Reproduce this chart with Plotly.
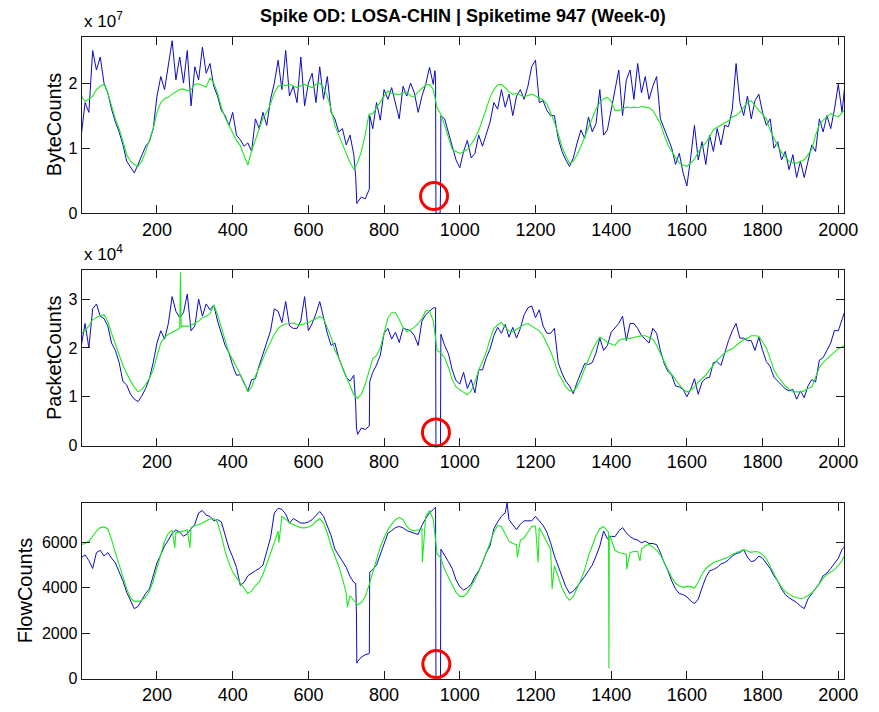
import plotly.graph_objects as go

STEP = 10  # sample spacing (time bins) of the rows below; row k covers bins 100k .. 100k+90

# ---------------- ByteCounts (x 10^7) ----------------
byte_blue_rows = [
    [1.2, 1.7, 1.55, 2.5, 2.2, 2.4, 2.0, 1.85, 1.6, 1.4],
    [1.25, 1.05, 0.8, 0.7, 0.62, 0.75, 0.9, 1.03, 1.1, 1.3],
    [1.8, 2.1, 1.9, 2.25, 2.65, 2.05, 2.4, 2.0, 2.5, 1.65],
    [2.25, 2.05, 2.55, 2.15, 2.3, 1.95, 1.8, 1.58, 1.5, 1.35],
    [1.55, 1.2, 1.13, 1.03, 1.08, 0.95, 1.45, 1.3, 1.55, 1.35],
    [1.75, 2.0, 2.35, 1.9, 2.5, 1.8, 1.95, 1.7, 2.4, 1.65],
    [2.0, 2.15, 1.7, 2.25, 1.75, 2.1, 1.55, 1.45, 1.25, 1.3],
    [1.05, 1.2, 0.9, 0.17, 0.25, 0.22, 0.37, 1.3, 1.7, 1.43],
    [1.9, 1.75, 1.93, 1.68, 1.45, 1.95, 1.8, 2.0, 1.85, 1.55],
    [1.8, 1.98, 2.24, 1.98, 0.0, 1.5, 1.45, 1.25, 1.03, 0.82],
    [0.7, 0.95, 1.12, 0.85, 0.92, 1.2, 1.03, 1.2, 1.4, 1.7],
    [1.6, 1.9, 1.63, 1.83, 1.5, 1.8, 1.9, 1.75, 1.95, 2.25],
    [2.35, 1.7, 1.73, 1.58, 1.5, 1.5, 1.15, 0.95, 0.82, 0.72],
    [0.85, 1.08, 1.28, 1.15, 1.48, 1.25, 1.38, 1.9, 1.2, 1.28],
    [1.6, 1.9, 2.2, 1.5, 2.05, 2.2, 1.75, 2.3, 1.85, 2.1],
    [1.75, 1.95, 2.1, 1.45, 1.3, 1.15, 1.0, 0.75, 0.92, 0.62],
    [0.42, 0.85, 1.35, 0.82, 1.1, 0.75, 1.2, 0.95, 1.3, 1.05],
    [1.35, 1.33, 1.6, 2.3, 1.7, 1.5, 1.8, 1.45, 1.73, 1.83],
    [1.55, 1.35, 1.45, 1.0, 1.1, 0.82, 0.95, 0.67, 0.9, 0.55],
    [0.8, 0.55, 0.82, 1.05, 0.95, 1.45, 1.25, 1.5, 1.3, 1.6],
    [1.98, 1.55],
]
byte_blue_extra = [(725, 0.55), (728, 0.15), (761, 0.37), (762, 1.5), (934, 2.19),
                   (936, 2.1), (937, 0.0), (948, 0.0), (949, 0.3), (2016, 1.9)]

byte_green_rows = [
    [1.8, 1.72, 1.75, 1.8, 1.9, 1.95, 1.98, 1.85, 1.65, 1.45],
    [1.3, 1.08, 0.9, 0.8, 0.75, 0.72, 0.8, 0.95, 1.12, 1.3],
    [1.55, 1.7, 1.76, 1.78, 1.83, 1.87, 1.9, 1.91, 1.88, 1.9],
    [1.98, 1.99, 1.97, 1.94, 2.08, 2.0, 1.85, 1.63, 1.47, 1.35],
    [1.22, 1.12, 1.04, 0.88, 0.74, 0.96, 1.13, 1.32, 1.46, 1.55],
    [1.68, 1.85, 1.95, 1.97, 1.96, 1.98, 1.96, 1.93, 1.96, 1.98],
    [1.95, 1.93, 1.98, 2.0, 1.93, 1.8, 1.6, 1.35, 1.2, 1.07],
    [0.92, 0.78, 0.68, 0.78, 0.95, 1.2, 1.52, 1.53, 1.62, 1.73],
    [1.8, 1.88, 1.84, 1.83, 1.82, 1.85, 1.86, 1.8, 1.79, 1.87],
    [1.92, 1.97, 1.98, 1.9, 1.62, 1.52, 1.35, 1.15, 0.98, 0.95],
    [0.92, 0.95, 0.98, 1.06, 1.15, 1.27, 1.45, 1.6, 1.78, 1.9],
    [1.97, 1.98, 1.93, 1.86, 1.83, 1.84, 1.82, 1.79, 1.81, 1.83],
    [1.8, 1.77, 1.74, 1.68, 1.55, 1.4, 1.22, 1.02, 0.88, 0.77],
    [0.8, 0.9, 1.03, 1.18, 1.33, 1.48, 1.6, 1.7, 1.76, 1.78],
    [1.72, 1.58, 1.58, 1.6, 1.63, 1.62, 1.63, 1.62, 1.64, 1.63],
    [1.62, 1.58, 1.48, 1.38, 1.2, 1.05, 0.95, 0.85, 0.77, 0.74],
    [0.72, 0.77, 0.83, 0.94, 1.02, 1.08, 1.18, 1.28, 1.32, 1.35],
    [1.38, 1.42, 1.48, 1.5, 1.55, 1.63, 1.7, 1.73, 1.65, 1.58],
    [1.52, 1.45, 1.28, 1.15, 1.03, 0.94, 0.87, 0.8, 0.77, 0.77],
    [0.8, 0.82, 0.9, 0.98, 1.2, 1.36, 1.43, 1.48, 1.53, 1.5],
    [1.48, 1.55],
]
byte_green_extra = [(2016, 1.58)]

# ---------------- PacketCounts (x 10^4) ----------------
packet_blue_rows = [
    [2.05, 2.5, 2.0, 2.8, 2.9, 2.65, 2.6, 2.45, 2.1, 1.95],
    [1.7, 1.31, 1.24, 1.05, 0.95, 0.9, 1.02, 1.17, 1.37, 1.7],
    [2.1, 2.35, 2.18, 2.5, 3.05, 2.75, 2.62, 2.72, 3.1, 2.35],
    [2.45, 3.0, 2.65, 2.9, 2.78, 2.88, 2.55, 2.28, 2.05, 1.9],
    [1.64, 1.44, 1.45, 1.28, 1.12, 1.35, 1.37, 1.64, 1.88, 2.1],
    [2.35, 2.8, 2.75, 2.52, 2.95, 2.45, 2.4, 2.4, 2.55, 3.05],
    [2.35, 2.5, 2.7, 2.95, 2.6, 2.3, 2.05, 2.1, 1.8, 1.6],
    [1.4, 1.32, 1.44, 0.23, 0.36, 0.33, 0.4, 1.5, 1.65, 1.85],
    [2.3, 2.4, 2.18, 2.32, 2.11, 2.4, 2.38, 2.35, 2.25, 2.05],
    [2.55, 2.68, 2.75, 2.82, 0.0, 2.28, 2.05, 1.88, 1.55, 1.33],
    [1.26, 1.5, 1.17, 1.35, 1.08, 1.55, 1.55, 1.8, 1.98, 2.25],
    [2.42, 2.3, 2.48, 2.22, 2.42, 2.2, 2.4, 2.68, 2.82, 2.86],
    [2.62, 2.78, 2.45, 2.3, 2.3, 2.4, 1.7, 1.48, 1.32, 1.22],
    [1.06, 1.3, 1.48, 1.68, 1.66, 1.7, 1.9, 2.2, 1.95, 2.05],
    [2.32, 2.42, 2.5, 2.65, 2.15, 2.5, 2.5, 2.4, 2.25, 2.18],
    [2.1, 2.4, 2.3, 1.95, 1.68, 1.52, 1.44, 1.22, 1.2, 1.15],
    [1.0, 1.15, 1.37, 1.05, 1.3, 1.38, 1.4, 1.7, 1.72, 1.64],
    [1.9, 2.15, 2.35, 2.5, 2.2, 2.2, 2.15, 2.15, 1.95, 2.22],
    [1.95, 1.72, 1.62, 1.4, 1.32, 1.24, 1.16, 1.12, 1.15, 0.95],
    [1.12, 0.98, 1.22, 1.35, 1.3, 1.75, 1.8, 1.95, 2.1, 2.36],
    [2.35, 2.58],
]
packet_blue_extra = [(725, 0.84), (727, 0.36), (761, 0.4), (762, 1.31), (936, 2.82),
                     (937, 0.0), (948, 0.0), (949, 0.0), (2016, 2.72)]

packet_green_rows = [
    [2.3, 2.35, 2.45, 2.58, 2.62, 2.66, 2.68, 2.54, 2.3, 2.08],
    [1.85, 1.64, 1.48, 1.32, 1.2, 1.1, 1.15, 1.25, 1.38, 1.55],
    [1.83, 2.1, 2.22, 2.28, 2.32, 2.36, 2.4, 2.45, 2.44, 2.46],
    [2.5, 2.55, 2.62, 2.65, 2.7, 2.88, 2.68, 2.42, 2.12, 1.9],
    [1.76, 1.6, 1.47, 1.3, 1.1, 1.2, 1.42, 1.62, 1.78, 1.96],
    [2.12, 2.28, 2.4, 2.46, 2.49, 2.5, 2.51, 2.48, 2.47, 2.5],
    [2.52, 2.56, 2.6, 2.64, 2.6, 2.42, 2.22, 1.95, 1.8, 1.6],
    [1.42, 1.25, 1.04, 0.97, 1.05, 1.25, 1.5, 1.78, 1.84, 2.0],
    [2.3, 2.62, 2.72, 2.72, 2.58, 2.42, 2.33, 2.37, 2.42, 2.5],
    [2.6, 2.76, 2.76, 2.55, 1.95, 1.9, 1.8, 1.6, 1.35, 1.2],
    [1.14, 1.09, 1.04, 1.12, 1.3, 1.55, 1.72, 1.92, 2.18, 2.4],
    [2.47, 2.52, 2.42, 2.35, 2.33, 2.38, 2.43, 2.48, 2.5, 2.45],
    [2.4, 2.35, 2.25, 2.1, 1.93, 1.72, 1.48, 1.35, 1.2, 1.12],
    [1.12, 1.2, 1.37, 1.58, 1.78, 1.95, 2.1, 2.22, 2.18, 2.11],
    [2.08, 2.05, 2.15, 2.18, 2.18, 2.2, 2.22, 2.24, 2.25, 2.25],
    [2.22, 2.18, 2.05, 1.9, 1.72, 1.56, 1.45, 1.35, 1.25, 1.15],
    [1.1, 1.13, 1.2, 1.3, 1.38, 1.44, 1.55, 1.66, 1.75, 1.82],
    [1.9, 1.95, 1.98, 2.05, 2.12, 2.17, 2.2, 2.25, 2.25, 2.24],
    [2.12, 2.0, 1.78, 1.55, 1.42, 1.31, 1.22, 1.16, 1.1, 1.1],
    [1.1, 1.12, 1.17, 1.2, 1.4, 1.6, 1.7, 1.78, 1.85, 1.92],
    [1.98, 2.03],
]
packet_green_extra = [(262, 3.55), (264, 2.42), (2016, 2.05)]

# ---------------- FlowCounts ----------------
flow_blue_rows = [
    [5330, 5450, 5200, 4850, 5550, 5650, 5400, 5550, 5300, 5100],
    [4700, 4300, 3800, 3400, 3080, 3180, 3450, 3750, 3950, 4550],
    [5100, 5450, 5850, 6100, 6400, 6550, 6450, 6270, 6380, 6600],
    [6800, 7300, 7400, 7200, 7140, 6950, 7000, 6900, 6350, 5750],
    [5350, 4900, 4100, 4240, 4530, 4650, 4750, 4850, 5000, 5600],
    [6200, 7300, 7500, 7450, 7250, 6850, 7050, 6950, 6850, 6850],
    [6900, 7000, 7200, 7360, 7150, 6750, 6300, 5700, 5450, 5200],
    [4900, 4500, 4240, 750, 950, 1050, 1100, 4800, 5000, 5500],
    [5950, 6400, 6520, 6650, 6700, 6640, 6520, 6450, 6400, 6350],
    [6750, 7050, 7300, 7450, 0, 5700, 5450, 5150, 4850, 4350],
    [4050, 3900, 4000, 4150, 4500, 4750, 5100, 5550, 5850, 6600],
    [6900, 7150, 7300, 7000, 6800, 6560, 6800, 6950, 6950, 6950],
    [7140, 6950, 6750, 6450, 5980, 5400, 4950, 4500, 4050, 3750],
    [3850, 4050, 4250, 4500, 4750, 5000, 5400, 5840, 6500, 6150],
    [6270, 6250, 6500, 6650, 6420, 6250, 6150, 6100, 5980, 6050],
    [5950, 5950, 5900, 5550, 5100, 4750, 4300, 3950, 3750, 3700],
    [3600, 3420, 3300, 3500, 4000, 4450, 4750, 4800, 4900, 5050],
    [5110, 5230, 5400, 5500, 5550, 5680, 5350, 5150, 5200, 5400],
    [5300, 5100, 4850, 4530, 4300, 3950, 3700, 3560, 3450, 3350],
    [3200, 3080, 3510, 3750, 3950, 4200, 4530, 4650, 4850, 5100],
    [5300, 5690],
]
flow_blue_extra = [(725, 4200), (727, 2800), (728, 680), (761, 1120), (762, 4680),
                   (936, 7550), (937, 0), (948, 0), (949, 0), (1125, 7730), (2016, 5800)]

flow_green_rows = [
    [5910, 5950, 6050, 6300, 6500, 6650, 6680, 6600, 6130, 5550],
    [5000, 4450, 3950, 3550, 3400, 3400, 3450, 3590, 3850, 4300],
    [4900, 5550, 6050, 6400, 6540, 6450, 6440, 6490, 6550, 6650],
    [6730, 6780, 6840, 6950, 7030, 7050, 6880, 6300, 5600, 5100],
    [4680, 4450, 4200, 4000, 3750, 3850, 4100, 4250, 4600, 5050],
    [5500, 6000, 6500, 7140, 7020, 6850, 6770, 6710, 6650, 6640],
    [6680, 6750, 6920, 7050, 6850, 6400, 5840, 5400, 4950, 4400],
    [3750, 3650, 3450, 3250, 3350, 3600, 4100, 4700, 5250, 5800],
    [6200, 6550, 6800, 7000, 7100, 7000, 6700, 6550, 6500, 6550],
    [6600, 7140, 7400, 7000, 5500, 5300, 4800, 4450, 4100, 3800],
    [3620, 3620, 3780, 4050, 4350, 4700, 5100, 5550, 5980, 6450],
    [6750, 6700, 6400, 6050, 5950, 5900, 6100, 6200, 6450, 6700],
    [6720, 6650, 6350, 6000, 5700, 4970, 4480, 4000, 3650, 3450],
    [3620, 3950, 4350, 4800, 5400, 5850, 6300, 6600, 6700, 6500],
    [6150, 5650, 5550, 5520, 5470, 5550, 5600, 5600, 5700, 5850],
    [5910, 5800, 5650, 5450, 5100, 4750, 4450, 4200, 4080, 4020],
    [4060, 4050, 3980, 4240, 4600, 4850, 5000, 5110, 5170, 5230],
    [5300, 5360, 5470, 5530, 5620, 5680, 5620, 5560, 5600, 5580],
    [5450, 5280, 4950, 4600, 4300, 4020, 3840, 3720, 3620, 3580],
    [3520, 3560, 3650, 3780, 3950, 4180, 4420, 4580, 4700, 4800],
    [4980, 5200],
]
flow_green_extra = [(247, 5760), (287, 5760), (522, 5980), (703, 3150), (901, 5110),
                    (1152, 5330), (1207, 5110), (1244, 3950), (1393, 6450), (1394, 460),
                    (1395, 6300), (1441, 4820), (1476, 5180), (2016, 5400)]

# spike markers (red circles) per panel
circle_x = [932, 937, 938]
circle_y = [0.265, 0.27, 640]

panel_titles = ["ByteCounts", "PacketCounts", "FlowCounts"]
panel_exponents = ["x 10<sup>7</sup>", "x 10<sup>4</sup>", None]
panel_ymax = [2.71, 3.59, 7740]
panel_ytickvals = [[0, 1, 2], [0, 1, 2, 3], [0, 2000, 4000, 6000]]
panel_yticktext = [["0", "1", "2"], ["0", "1", "2", "3"], ["0", "2000", "4000", "6000"]]
x_tickvals = [200, 400, 600, 800, 1000, 1200, 1400, 1600, 1800, 2000]
x_range = [1, 2016]
title_text = "Spike OD: LOSA-CHIN | Spiketime 947 (Week-0)"


def series(rows, extra):
    vals = [v for row in rows for v in row]
    pts = {i * STEP: v for i, v in enumerate(vals)}
    pts.update(dict(extra))
    xs = sorted(pts)
    return xs, [pts[x] for x in xs]


panels = [
    (byte_blue_rows, byte_blue_extra, byte_green_rows, byte_green_extra),
    (packet_blue_rows, packet_blue_extra, packet_green_rows, packet_green_extra),
    (flow_blue_rows, flow_blue_extra, flow_green_rows, flow_green_extra),
]

W, H = 879, 712
PX_L, PX_R = 83, 858
panel_px = [(37.3, 216.0), (273.7, 451.3), (509.3, 687.3)]

BLUE = "#0b0bc4"
GREEN = "#1ee81e"
FONT = "Liberation Sans, Arial, Helvetica, sans-serif"

fig = go.Figure()
layout = dict(
    width=W, height=H, margin=dict(l=0, r=0, t=0, b=0),
    paper_bgcolor="white", plot_bgcolor="white", showlegend=False,
    font=dict(family=FONT, color="black"),
)
annotations = []

for i, (br, be, gr, ge) in enumerate(panels):
    n = "" if i == 0 else str(i + 1)
    xa, ya = "x" + n, "y" + n
    bx, by = series(br, be)
    gx, gy = series(gr, ge)
    fig.add_trace(go.Scatter(x=bx, y=by, mode="lines", line=dict(color=BLUE, width=1),
                             xaxis=xa, yaxis=ya, hoverinfo="skip"))
    fig.add_trace(go.Scatter(x=gx, y=gy, mode="lines", line=dict(color=GREEN, width=1.1),
                             xaxis=xa, yaxis=ya, hoverinfo="skip"))
    fig.add_trace(go.Scatter(x=[circle_x[i]], y=[circle_y[i]], mode="markers",
                             marker=dict(symbol="circle-open", size=27, color="#ff0000",
                                         line=dict(width=3, color="#ff0000")),
                             cliponaxis=False, xaxis=xa, yaxis=ya, hoverinfo="skip"))
    top, bot = panel_px[i]
    ydom = [1 - bot / H, 1 - top / H]
    axis_common = dict(showline=True, linecolor="#1a1a1a", linewidth=1, mirror="allticks",
                       ticks="inside", ticklen=8, tickcolor="#1a1a1a", showgrid=False,
                       zeroline=False)
    layout["xaxis" + n] = dict(domain=[PX_L / W, PX_R / W], range=x_range, anchor=ya,
                               tickvals=x_tickvals, tickfont=dict(size=18, family=FONT),
                               **axis_common)
    layout["yaxis" + n] = dict(domain=ydom, range=[0, panel_ymax[i]], anchor=xa,
                               tickvals=panel_ytickvals[i], ticktext=panel_yticktext[i],
                               tickfont=dict(size=16, family=FONT), **axis_common)
    ylab_x = 55 if i < 2 else 25
    annotations.append(dict(text=panel_titles[i], x=ylab_x / W, y=1 - (top + bot) / 2 / H,
                            xref="paper", yref="paper", showarrow=False, textangle=-90,
                            xanchor="center", yanchor="middle",
                            font=dict(size=20, family=FONT, color="black")))
    if panel_exponents[i]:
        annotations.append(dict(text=panel_exponents[i], x=PX_L / W, y=1 - (top - 4) / H,
                                xref="paper", yref="paper", showarrow=False,
                                xanchor="left", yanchor="bottom",
                                font=dict(size=17, family=FONT, color="black")))

annotations.append(dict(text="<b>" + title_text + "</b>", x=(PX_L + PX_R) / 2 / W,
                        y=1 - 16.5 / H, xref="paper", yref="paper", showarrow=False,
                        xanchor="center", yanchor="middle",
                        font=dict(size=18, family=FONT, color="black")))
layout["annotations"] = annotations
fig.update_layout(**layout)
fig.write_html("out.html")
